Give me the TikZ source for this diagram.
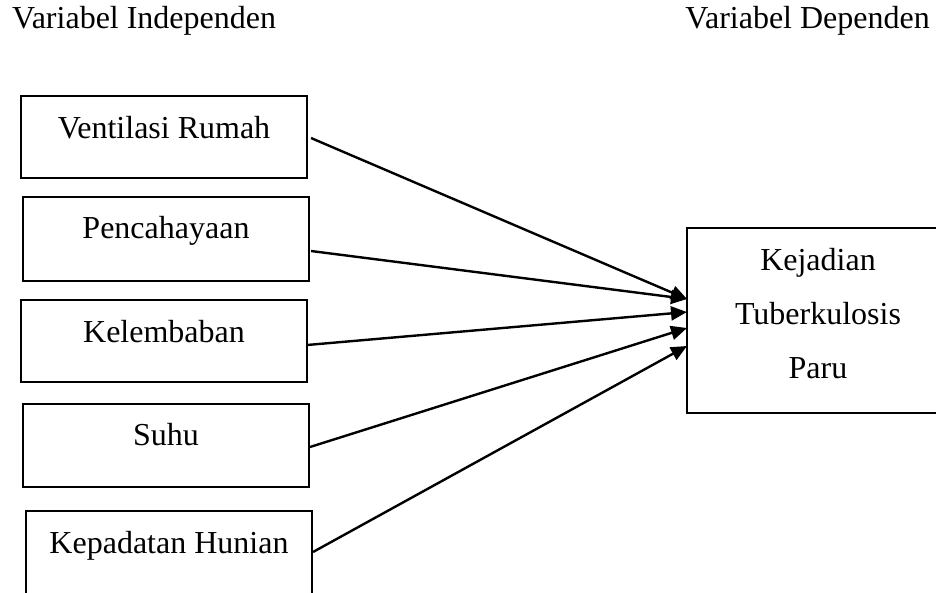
\documentclass[tikz,border=0pt]{standalone}
\usepackage{fontspec}
\setmainfont{Liberation Serif}
\usetikzlibrary{arrows.meta}
\begin{document}
\begin{tikzpicture}[x=1pt,y=-1pt,
  box/.style={draw, line width=1.9pt, inner sep=0pt, outer sep=0pt, anchor=north west},
  lbl/.style={anchor=base, font=\fontsize{32}{38}\selectfont, inner sep=0pt},
  conn/.style={line width=2.4pt, -{Triangle[length=16pt,width=14pt]}}]
\useasboundingbox (0,0) rectangle (936,592);
\clip (0,0) rectangle (936,592);
% headers
\node[lbl, anchor=base west] (hL) at (12,28) {Variabel Independen};
\node[lbl, anchor=base east] (hR) at (930,28) {Variabel Dependen};
% independent boxes
\node[box, minimum width=286pt, minimum height=82pt] (b1) at (21,96) {};
\node[box, minimum width=286pt, minimum height=84pt] (b2) at (23,197) {};
\node[box, minimum width=286pt, minimum height=82pt] (b3) at (21,300) {};
\node[box, minimum width=286pt, minimum height=83pt] (b4) at (23,404) {};
\node[box, minimum width=286pt, minimum height=84pt] (b5) at (26,511) {};
\node[lbl] (t1) at (164,138) {Ventilasi Rumah};
\node[lbl] (t2) at (166,238) {Pencahayaan};
\node[lbl] (t3) at (164,342) {Kelembaban};
\node[lbl] (t4) at (166,445) {Suhu};
\node[lbl] (t5) at (169,553) {Kepadatan Hunian};
% dependent box
\node[box, minimum width=262pt, minimum height=185pt] (r) at (687,228) {};
\node[lbl] (r1) at (818,270) {Kejadian};
\node[lbl] (r2) at (818,324) {Tuberkulosis};
\node[lbl] (r3) at (818,378) {Paru};
% connector end points
\coordinate (s1) at (311,138);
\coordinate (s2) at (311,251);
\coordinate (s3) at (307,345);
\coordinate (s4) at (310,447);
\coordinate (s5) at (313,552);
\coordinate (e1) at (687,299);
\coordinate (e2) at (687,299);
\coordinate (e3) at (687,312);
\coordinate (e4) at (687,328);
\coordinate (e5) at (687,346);
\draw[conn] (s1) -- (e1);
\draw[conn] (s2) -- (e2);
\draw[conn] (s3) -- (e3);
\draw[conn] (s4) -- (e4);
\draw[conn] (s5) -- (e5);
\end{tikzpicture}
\end{document}
